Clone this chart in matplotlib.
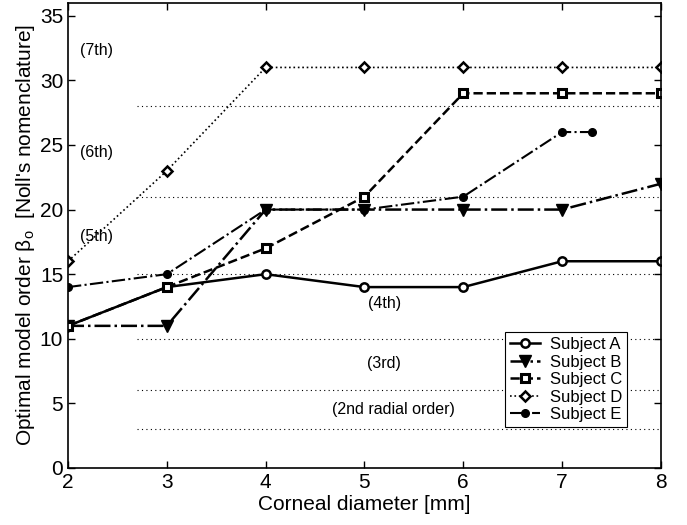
import numpy as np
import matplotlib
matplotlib.use('Agg')
import matplotlib.pyplot as plt

plt.rcParams['font.family'] = ['Liberation Sans', 'DejaVu Sans']
plt.rcParams['mathtext.fontset'] = 'custom'
plt.rcParams['mathtext.rm'] = 'Liberation Sans'
plt.rcParams['mathtext.it'] = 'Liberation Sans:italic'

diam = [2, 3, 4, 5, 6, 7, 8]
subj_a = [11, 14, 15, 14, 14, 16, 16]
subj_b = [11, 11, 20, 20, 20, 20, 22]
subj_c = [11, 14, 17, 21, 29, 29, 29]
subj_d = [16, 23, 31, 31, 31, 31, 31]
diam_e = [2, 3, 4, 5, 6, 7, 7.3]
subj_e = [14, 15, 20, 20, 21, 26, 26]

# radial order boundaries (Noll's nomenclature)
order_lines = [3, 6, 10, 15, 21, 28]
order_labels = ['(2nd radial order)', '(3rd)', '(4th)', '(5th)', '(6th)', '(7th)']
order_label_x = [5.29, 5.2, 5.2, 2.12, 2.12, 2.12]
order_label_y = [4.5, 8.1, 12.7, 17.9, 24.4, 32.3]

fig = plt.figure(figsize=(6.87, 5.25), dpi=100)
ax = fig.add_axes([0.099, 0.1086, 0.863, 0.886])

for yl in order_lines:
    ax.plot([2.7, 8], [yl, yl], color='k', ls=(0, (1, 3)), lw=0.8)
for lab, lx, ly in zip(order_labels, order_label_x, order_label_y):
    ax.text(lx, ly, lab, fontsize=11.5, ha='center' if lx > 3 else 'left', va='center')

ax.plot(diam, subj_a, color='k', ls='-', lw=1.8, marker='o', ms=6,
        mfc='white', mec='k', mew=1.8, label='Subject A')
ax.plot(diam, subj_b, color='k', ls='-.', lw=1.8, marker='v', ms=9,
        mfc='k', mec='k', label='Subject B')
ax.plot(diam, subj_c, color='k', ls='--', lw=1.8, marker='s', ms=5.5,
        mfc='white', mec='k', mew=2.2, label='Subject C')
ax.plot(diam, subj_d, color='k', ls=':', lw=1.2, marker='D', ms=5.5,
        mfc='white', mec='k', mew=1.8, label='Subject D')
ax.plot(diam_e, subj_e, color='k', ls='-.', lw=1.5, marker='o', ms=5.5,
        mfc='k', mec='k', label='Subject E')

ax.set_xlim(2, 8)
ax.set_ylim(0, 36)
ax.set_xticks(np.arange(2, 9, 1))
ax.set_yticks(np.arange(0, 36, 5))
ax.tick_params(direction='in', top=True, right=True, labelsize=15, length=5, width=1)
for sp in ax.spines.values():
    sp.set_linewidth(1.2)

ax.set_xlabel('Corneal diameter [mm]', fontsize=15, labelpad=2)
ax.set_ylabel(r"Optimal model order β$_{\rm o}$  [Noll's nomenclature]", fontsize=15, labelpad=2)

leg = ax.legend(loc='lower right', bbox_to_anchor=(0.957, 0.07), fontsize=12,
                frameon=True, fancybox=False, edgecolor='k', framealpha=1,
                handlelength=1.8, handletextpad=0.6, borderpad=0.3, labelspacing=0.15)
leg.get_frame().set_linewidth(0.8)

fig.savefig('out.png', dpi=100)
